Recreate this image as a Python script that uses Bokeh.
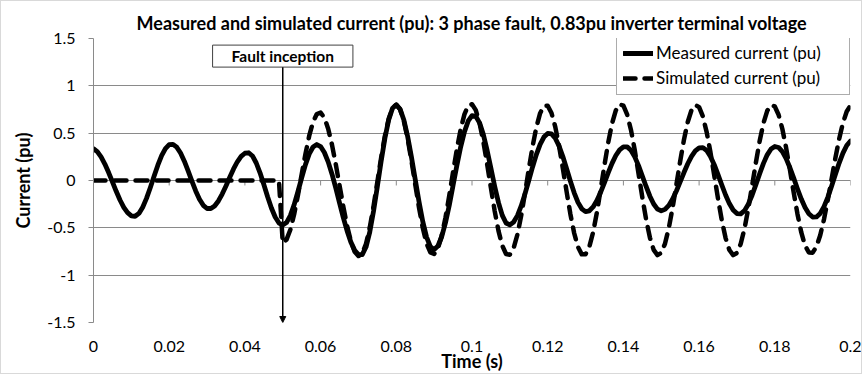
import numpy as np
from bokeh.plotting import figure
from bokeh.models import (Range1d, FixedTicker, Label, Arrow, NormalHead, Span,
                          Legend, LegendItem, ColumnDataSource)
from bokeh.embed import file_html
from bokeh.resources import INLINE

# ---------------- data ----------------
sample_step = 0.001  # s, sampling grid of both traces (0 .. 0.2 s)

measured_current = [
    0.335, 0.305, 0.250, 0.174, 0.084, -0.015, -0.114, -0.206, -0.283, -0.340,
    -0.373, -0.378, -0.348, -0.282, -0.189, -0.076, 0.045, 0.162, 0.262, 0.336,
    0.378, 0.382, 0.352, 0.290, 0.204, 0.102, -0.006, -0.110, -0.198, -0.262,
    -0.296, -0.296, -0.269, -0.216, -0.143, -0.057, 0.034, 0.122, 0.198, 0.255,
    0.288, 0.293, 0.259, 0.185, 0.081, -0.042, -0.171, -0.290, -0.386, -0.449,
    -0.470, -0.444, -0.371, -0.258, -0.119, 0.029, 0.168, 0.281, 0.354, 0.380,
    0.359, 0.296, 0.197, 0.069, -0.079, -0.237, -0.392, -0.533, -0.651, -0.737,
    -0.782, -0.783, -0.703, -0.543, -0.321, -0.062, 0.205, 0.448, 0.642, 0.764,
    0.800, 0.755, 0.639, 0.465, 0.248, 0.011, -0.224, -0.434, -0.598, -0.699,
    -0.730, -0.692, -0.594, -0.446, -0.261, -0.052, 0.158, 0.353, 0.514, 0.629,
    0.685, 0.678, 0.609, 0.485, 0.318, 0.129, -0.062, -0.234, -0.368, -0.449,
    -0.469, -0.439, -0.371, -0.268, -0.141, 0.000, 0.143, 0.274, 0.382, 0.459,
    0.497, 0.492, 0.446, 0.364, 0.253, 0.125, -0.008, -0.130, -0.231, -0.299,
    -0.329, -0.320, -0.279, -0.212, -0.123, -0.022, 0.083, 0.181, 0.264, 0.324,
    0.356, 0.355, 0.319, 0.250, 0.157, 0.048, -0.063, -0.166, -0.248, -0.302,
    -0.320, -0.305, -0.263, -0.196, -0.111, -0.015, 0.084, 0.177, 0.255, 0.313,
    0.345, 0.347, 0.317, 0.254, 0.167, 0.063, -0.047, -0.153, -0.244, -0.311,
    -0.349, -0.352, -0.318, -0.250, -0.156, -0.044, 0.072, 0.181, 0.271, 0.333,
    0.359, 0.349, 0.305, 0.231, 0.135, 0.025, -0.089, -0.196, -0.286, -0.351,
    -0.386, -0.385, -0.348, -0.276, -0.178, -0.061, 0.064, 0.184, 0.289, 0.370,
    0.418,
]

simulated_current = [
    0.0, 0.0, 0.0, 0.0, 0.0, 0.0, 0.0, 0.0, 0.0, 0.0,
    0.0, 0.0, 0.0, 0.0, 0.0, 0.0, 0.0, 0.0, 0.0, 0.0,
    0.0, 0.0, 0.0, 0.0, 0.0, 0.0, 0.0, 0.0, 0.0, 0.0,
    0.0, 0.0, 0.0, 0.0, 0.0, 0.0, 0.0, 0.0, 0.0, 0.0,
    0.0, 0.0, 0.0, 0.0, 0.0, 0.0, 0.0, 0.0, 0.0, 0.0,
    -0.660, -0.624, -0.520, -0.359, -0.158, 0.064, 0.281, 0.473, 0.618, 0.702,
    0.717, 0.663, 0.547, 0.379, 0.173, -0.051, -0.275, -0.478, -0.641, -0.752,
    -0.798, -0.773, -0.668, -0.494, -0.267, -0.013, 0.242, 0.473, 0.652, 0.766,
    0.800, 0.751, 0.628, 0.441, 0.211, -0.041, -0.286, -0.502, -0.666, -0.760,
    -0.776, -0.715, -0.581, -0.390, -0.158, 0.090, 0.331, 0.540, 0.699, 0.791,
    0.806, 0.743, 0.606, 0.410, 0.174, -0.079, -0.323, -0.532, -0.688, -0.776,
    -0.784, -0.713, -0.571, -0.370, -0.133, 0.118, 0.358, 0.562, 0.711, 0.790,
    0.790, 0.713, 0.567, 0.366, 0.129, -0.119, -0.356, -0.557, -0.703, -0.780,
    -0.780, -0.700, -0.547, -0.337, -0.092, 0.163, 0.403, 0.603, 0.741, 0.806,
    0.790, 0.696, 0.534, 0.320, 0.073, -0.179, -0.412, -0.603, -0.733, -0.788,
    -0.765, -0.666, -0.501, -0.288, -0.045, 0.203, 0.431, 0.618, 0.744, 0.798,
    0.775, 0.676, 0.511, 0.298, 0.055, -0.193, -0.421, -0.608, -0.734, -0.788,
    -0.765, -0.668, -0.507, -0.296, -0.057, 0.189, 0.417, 0.605, 0.736, 0.797,
    0.782, 0.695, 0.544, 0.343, 0.112, -0.129, -0.356, -0.549, -0.688, -0.761,
    -0.762, -0.699, -0.578, -0.409, -0.206, 0.015, 0.236, 0.439, 0.608, 0.729,
    0.792,
]

x_ticks = [0, 0.02, 0.04, 0.06, 0.08, 0.1, 0.12, 0.14, 0.16, 0.18, 0.2]
x_tick_labels = ["0", "0.02", "0.04", "0.06", "0.08", "0.1", "0.12", "0.14", "0.16", "0.18", "0.2"]
y_ticks = [-1.5, -1, -0.5, 0, 0.5, 1, 1.5]
y_tick_labels = ["-1.5", "-1", "-0.5", "0", "0.5", "1", "1.5"]

fault_time = [0.05]
fault_label = "Fault inception"
title_text = "Measured and simulated current (pu): 3 phase fault, 0.83pu inverter terminal voltage"
x_title = "Time (s)"
y_title = "Current (pu)"
series_names = ["Measured current (pu)", "Simulated current (pu)"]

# ---------------- figure ----------------
time_s = np.round(np.arange(len(measured_current)) * sample_step, 3)
src = ColumnDataSource(dict(t=time_s, meas=measured_current, sim=simulated_current))

FONT = "Lato"
GRID = "#8a8a8a"
X0, X1 = 0, 0.2
Y0, Y1 = -1.5, 1.5
FRAME_H = 285
TICK_LEN = 5 * (Y1 - Y0) / FRAME_H  # 5 px tick marks below the y = 0 axis

p = figure(width=862, height=374, output_backend="svg", toolbar_location=None,
           x_range=Range1d(X0, X1), y_range=Range1d(Y0, Y1),
           min_border_left=92, min_border_right=13, min_border_top=37, min_border_bottom=53)
p.styles = {"border": "1px solid #d9d9d9"}
p.outline_line_color = None
p.background_fill_color = "white"

p.title.text = title_text
p.title.align = "center"
p.title.text_font = FONT
p.title.text_font_size = "18px"
p.title.text_font_style = "bold"
p.title.text_color = "black"
p.title.standoff = 9

# bottom axis: labels and title (the y = 0 line is drawn separately)
xa = p.xaxis[0]
xa.ticker = FixedTicker(ticks=x_ticks)
xa.major_label_overrides = dict(zip(x_ticks, x_tick_labels))
xa.axis_line_color = None
xa.major_tick_in = 0
xa.major_tick_out = 0
xa.minor_tick_in = 0
xa.minor_tick_out = 0
xa.major_label_standoff = 18
xa.major_label_text_font = FONT
xa.major_label_text_font_size = "16px"
xa.major_label_text_color = "black"
xa.axis_label = x_title
xa.axis_label_text_font = FONT
xa.axis_label_text_font_size = "18px"
xa.axis_label_text_font_style = "bold"
xa.axis_label_text_color = "black"
xa.axis_label_standoff = -5

# y axis
ya = p.yaxis[0]
ya.ticker = FixedTicker(ticks=y_ticks)
ya.major_label_overrides = dict(zip(y_ticks, y_tick_labels))
ya.axis_line_color = GRID
ya.major_tick_line_color = GRID
ya.major_tick_in = 0
ya.major_tick_out = 5
ya.minor_tick_in = 0
ya.minor_tick_out = 0
ya.major_label_standoff = 13
ya.major_label_text_font = FONT
ya.major_label_text_font_size = "16px"
ya.major_label_text_color = "black"
ya.axis_label = y_title
ya.axis_label_text_font = FONT
ya.axis_label_text_font_size = "18px"
ya.axis_label_text_font_style = "bold"
ya.axis_label_text_color = "black"
ya.axis_label_standoff = 10

p.xgrid.visible = False
p.ygrid.grid_line_color = GRID
p.ygrid.grid_line_width = 1

# horizontal axis crossing at y = 0, with its tick marks
zero_axis = Span(location=0, dimension="width", line_color=GRID, line_width=1, level="underlay")
p.add_layout(zero_axis)
p.segment(x0=x_ticks, y0=[0] * len(x_ticks), x1=x_ticks, y1=[-TICK_LEN] * len(x_ticks),
          line_color=GRID, line_width=1, level="underlay")

r1 = p.line("t", "meas", source=src, line_color="black", line_width=4.8,
            line_join="round", line_cap="round")
r2 = p.line("t", "sim", source=src, line_color="black", line_width=4.5,
            line_dash="12 9", line_join="round", line_cap="round")

# fault inception annotation
p.add_layout(Arrow(x_start=fault_time[0], y_start=1.2, x_end=fault_time[0], y_end=Y0,
                   line_color="black", line_width=1.5,
                   end=NormalHead(size=6, fill_color="black", line_color="black")))
p.add_layout(Label(x=fault_time[0], y=1.314, text=fault_label, text_align="center",
                   text_baseline="middle", text_font=FONT, text_font_size="15.5px",
                   text_font_style="bold", text_color="black",
                   border_line_color="#404040", border_line_width=1,
                   background_fill_color="white", padding=(19, 2)))

legend = Legend(items=[LegendItem(label=series_names[0], renderers=[r1]),
                       LegendItem(label=series_names[1], renderers=[r2])],
                location=(523, 227), margin=0, padding=6, spacing=4,
                glyph_width=30, glyph_height=20, label_height=20, label_width=187,
                label_standoff=3,
                label_text_font=FONT, label_text_font_size="17px", label_text_color="black",
                border_line_color="#595959", border_line_width=1,
                background_fill_color="white", background_fill_alpha=1)
p.add_layout(legend)

open("out.html", "w").write(file_html(p, INLINE))
